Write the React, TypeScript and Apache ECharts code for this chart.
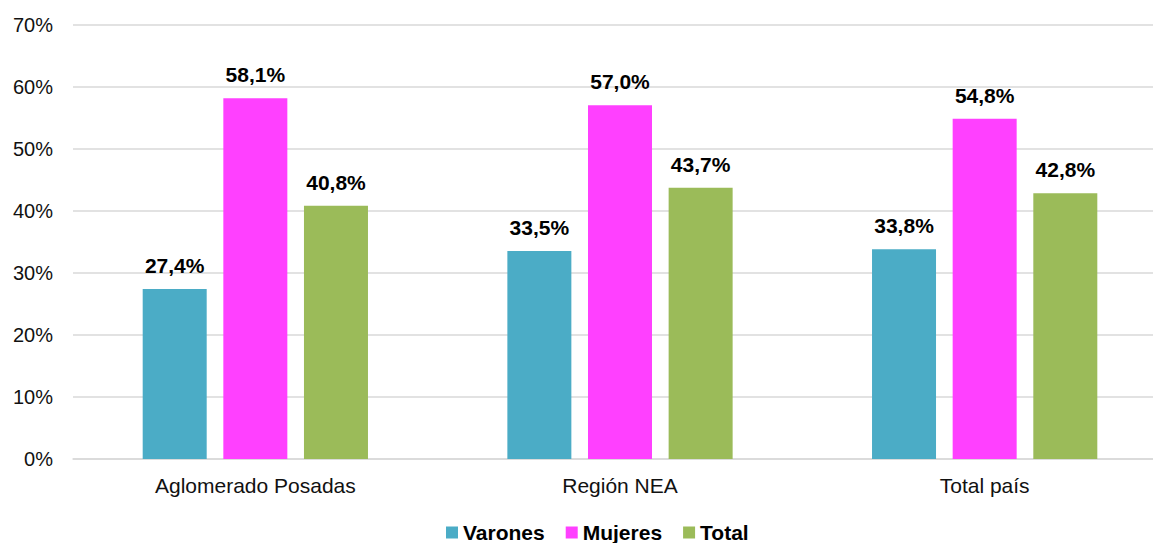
import React, { useEffect, useRef } from "react";
import * as echarts from "echarts";

const categories = ["Aglomerado Posadas", "Región NEA", "Total país"];
const varones = [27.4, 33.5, 33.8];
const mujeres = [58.1, 57.0, 54.8];
const total = [40.8, 43.7, 42.8];
const seriesNames = ["Varones", "Mujeres", "Total"];
const colors = ["#4BACC6", "#FF40FF", "#9BBB59"];

const FONT = "Liberation Sans, Arial, Helvetica, sans-serif";

export default function App() {
  const ref = useRef<HTMLDivElement>(null);
  useEffect(() => {
    document.body.style.margin = "0";
    if (!ref.current) return;
    const chart = echarts.init(ref.current, undefined, { renderer: "svg" });
    const fmt = (v: number) => v.toFixed(1).replace(".", ",") + "%";
    const mk = (name: string, data: number[], color: string) => ({
      name,
      type: "bar",
      data,
      barWidth: 64,
      barGap: "26%",
      itemStyle: { color },
      label: {
        show: true,
        position: "top",
        distance: 13,
        formatter: (p: any) => fmt(p.value),
        fontFamily: FONT,
        fontWeight: "bold",
        fontSize: 21,
        color: "#000",
      },
    });
    chart.setOption({
      animation: false,
      grid: { left: 73, top: 24.5, right: 0, height: 434.5 },
      legend: {
        data: seriesNames,
        top: 522,
        left: 446,
        padding: 0,
        itemWidth: 12,
        itemHeight: 12,
        itemGap: 21,
        icon: "rect",
        textStyle: { fontFamily: FONT, fontWeight: "bold", fontSize: 21, color: "#000", padding: [0, 0, 0, 0] },
      },
      xAxis: {
        type: "category",
        data: categories,
        axisTick: { show: false },
        axisLine: { lineStyle: { color: "#d9d9d9", width: 1.5 } },
        axisLabel: { fontFamily: FONT, fontSize: 21, color: "#111", margin: 16 },
      },
      yAxis: {
        type: "value",
        min: 0,
        max: 70,
        interval: 10,
        axisLabel: { formatter: "{value}%", fontFamily: FONT, fontSize: 20, color: "#111", margin: 20 },
        splitLine: { lineStyle: { color: "#d9d9d9", width: 1.5 } },
        axisLine: { show: false },
        axisTick: { show: false },
      },
      series: [
        mk(seriesNames[0], varones, colors[0]),
        mk(seriesNames[1], mujeres, colors[1]),
        mk(seriesNames[2], total, colors[2]),
      ],
    });
    return () => chart.dispose();
  }, []);
  return (
    <div style={{ width: 1153, height: 543, overflow: "hidden" }}>
      <div ref={ref} style={{ width: 1167, height: 543 }} />
    </div>
  );
}
